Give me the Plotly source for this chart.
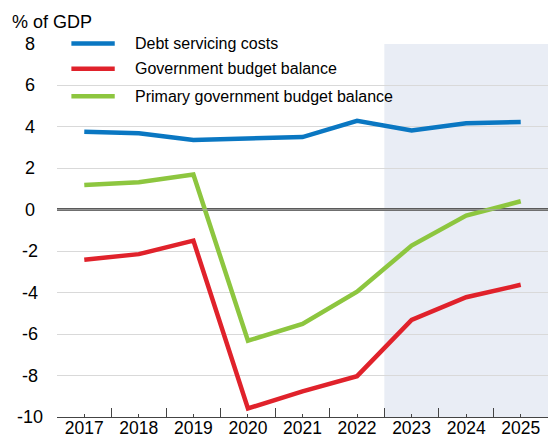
import plotly.graph_objects as go

years = [2017, 2018, 2019, 2020, 2021, 2022, 2023, 2024, 2025]
debt_servicing = [3.77, 3.69, 3.37, 3.45, 3.51, 4.29, 3.83, 4.17, 4.24]
budget_balance = [-2.41, -2.14, -1.49, -9.59, -8.76, -8.03, -5.32, -4.22, -3.62]
primary_balance = [1.19, 1.33, 1.70, -6.32, -5.51, -3.95, -1.73, -0.28, 0.41]
y_ticks = [8, 6, 4, 2, 0, -2, -4, -6, -8, -10]
series_names = ["Debt servicing costs", "Government budget balance",
                "Primary government budget balance"]
colors = ["#0A77C2", "#E0222B", "#8DC63F"]
forecast_start = 2022.5

FONT = "Liberation Sans, Arial, sans-serif"

fig = go.Figure()
for name, vals, col in zip(series_names, [debt_servicing, budget_balance, primary_balance], colors):
    fig.add_trace(go.Scatter(x=years, y=vals, mode="lines", name=name,
                             line=dict(color=col, width=4.5), showlegend=False))

shapes = [
    dict(type="rect", xref="x", yref="paper", x0=forecast_start, x1=2025.5, y0=0, y1=1,
         fillcolor="#E9EDF5", line=dict(width=0), layer="below"),
    dict(type="line", xref="paper", yref="y", x0=0, x1=1, y0=0, y1=0,
         line=dict(color="#A8A8A8", width=1), layer="above"),
]
annotations = [
    dict(text="% of GDP", xref="paper", yref="paper", x=-0.0964, y=1.0578,
         xanchor="left", yanchor="middle", showarrow=False,
         font=dict(family=FONT, size=18, color="#000")),
]
# centred y tick labels
for v in y_ticks:
    annotations.append(dict(text=str(v), xref="paper", yref="y", x=-0.0556, y=v,
                            xanchor="center", yanchor="middle", showarrow=False,
                            font=dict(family=FONT, size=18, color="#000")))
leg_y = [1.0013, 0.9334, 0.8598]
for name, col, ly in zip(series_names, colors, leg_y):
    shapes.append(dict(type="line", xref="paper", yref="paper", x0=0.0293, x1=0.1176,
                       y0=ly, y1=ly, line=dict(color=col, width=4.5)))
    annotations.append(dict(text=name, xref="paper", yref="paper", x=0.1549, y=ly,
                            xanchor="left", yanchor="middle", showarrow=False,
                            font=dict(family=FONT, size=16, color="#000")))

fig.update_layout(
    width=548, height=437,
    margin=dict(l=57, r=0, t=44, b=20),
    paper_bgcolor="white", plot_bgcolor="white",
    font=dict(family=FONT, size=18, color="#000"),
    shapes=shapes, annotations=annotations,
    showlegend=False,
)
fig.update_xaxes(
    range=[2016.5, 2025.5], tickmode="array", tickvals=years,
    ticktext=[str(y) for y in years],
    ticks="inside", ticklen=3, tickcolor="#444", tickwidth=1,
    minor=dict(tickmode="linear", tick0=2016.5, dtick=1, ticks="inside",
               ticklen=9, tickcolor="#444", tickwidth=1, showgrid=False),
    showline=True, linecolor="#444", linewidth=1,
    showgrid=False, zeroline=False, automargin=False,
    ticklabelstandoff=-5,
    tickfont=dict(family=FONT, size=17.5, color="#000"),
)
fig.update_yaxes(
    range=[-10, 8], tickmode="array", tickvals=y_ticks,
    showticklabels=False, automargin=False,
    showgrid=True, gridcolor="#D9D9D9", gridwidth=1,
    zeroline=True, zerolinecolor="#5A5A5A", zerolinewidth=3,
    showline=False, ticks="",
)

fig.write_html("out.html", config={"displayModeBar": False},
               post_script="document.body.style.margin='0px';document.body.style.overflow='hidden';")
